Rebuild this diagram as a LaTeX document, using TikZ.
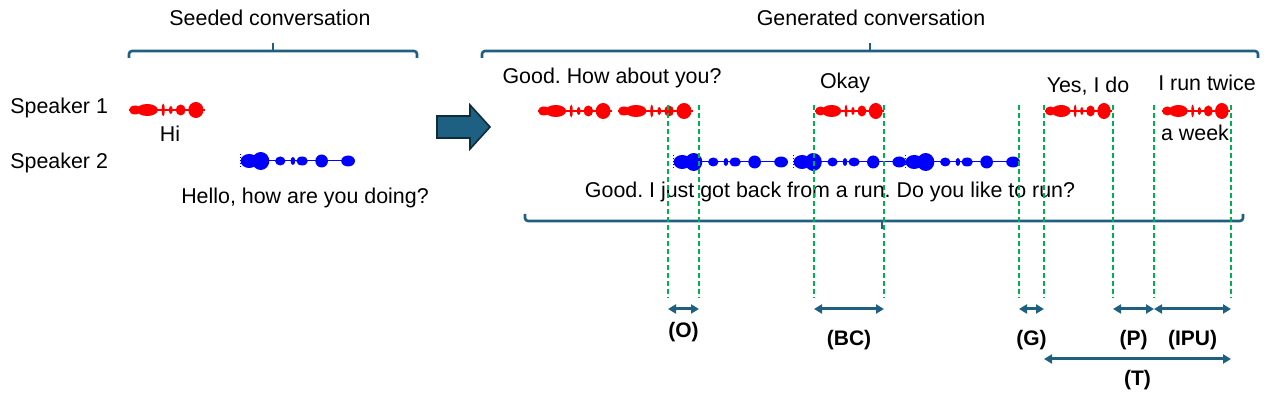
\documentclass[tikz,border=0pt]{standalone}
\usepackage{fontspec}
\setmainfont{Liberation Sans}
\usetikzlibrary{arrows.meta, positioning, calc}
\definecolor{bracketblue}{HTML}{1F5F7F}
\definecolor{arrowfill}{HTML}{1D6082}
\definecolor{arrowline}{HTML}{0E2C3B}
\definecolor{guidegreen}{HTML}{00B050}
\frenchspacing

% one red speech blob, start x / width / y
\newcommand{\redwave}[3]{%
  \begin{scope}[shift={(#1,#3)}, xscale=#2, red]
    \draw[line width=0.7pt] (0,0) -- (1,0);
    \fill (0.08,0) ellipse [x radius=0.08, y radius=4.5];
    \fill (0.24,0) ellipse [x radius=0.14, y radius=6];
    \fill (0.45,0) ellipse [x radius=0.02, y radius=6.5];
    \fill (0.55,0) ellipse [x radius=0.025, y radius=4];
    \fill (0.68,0) ellipse [x radius=0.065, y radius=5.5];
    \fill (0.88,0) ellipse [x radius=0.10, y radius=8];
  \end{scope}}
% one blue speech blob, start x / width / y
\newcommand{\bluewave}[3]{%
  \begin{scope}[shift={(#1,#3)}, xscale=#2, blue]
    \draw[line width=0.5pt] (0,0) -- (1,0);
    \foreach \yy in {-7,-4,...,5} \fill (0,\yy) rectangle ++(0.012,1.5);
    \fill (0.08,0) ellipse [x radius=0.075, y radius=7];
    \fill (0.18,0) ellipse [x radius=0.075, y radius=9];
    \fill (0.35,0) ellipse [x radius=0.045, y radius=4.5];
    \fill (0.46,0) ellipse [x radius=0.02, y radius=4];
    \fill (0.54,0) ellipse [x radius=0.05, y radius=4.5];
    \fill (0.71,0) ellipse [x radius=0.055, y radius=6.5];
    \fill (0.94,0) ellipse [x radius=0.06, y radius=5.5];
  \end{scope}}

\begin{document}
\begin{tikzpicture}[
  x=0.5pt, y=-0.5pt,
  lbl/.style={inner sep=0pt, font=\fontsize{10.7}{12}\selectfont},
  tag/.style={inner sep=0pt, font=\fontsize{10.5}{12}\selectfont\bfseries},
  brace/.style={draw=bracketblue, line width=1.3pt, rounded corners=1.5pt},
  guide/.style={draw=guidegreen, line width=0.6pt, dash pattern=on 2.5pt off 1.5pt},
  dimarr/.style={{Triangle[length=4pt,width=4.5pt]}-{Triangle[length=4pt,width=4.5pt]},
                 draw=bracketblue, line width=1.5pt}
]
\useasboundingbox (0,0) rectangle (1269,399);

% speakers
\node[lbl, anchor=west] (spk1) at (10,108) {Speaker 1};
\node[lbl, anchor=west] (spk2) at (10,163) {Speaker 2};

% seeded part
\draw[brace] (129,58) -- (129,51) -- (417,51) -- (417,58);
\draw[brace] (273,51) -- (273,43);
\node[lbl] (seedlbl) at (270,18) {Seeded conversation};
\redwave{129}{76}{110}
\node[lbl] (hi) at (170,134) {Hi};
\bluewave{240}{115}{161}
\node[lbl] (hello) at (305,198) {Hello, how are you doing?};

% big arrow
\filldraw[fill=arrowfill, draw=arrowline, line width=0.8pt]
  (437,116) -- (470,116) -- (470,105) -- (490,127) -- (470,149) -- (470,138) -- (437,138) -- cycle;

% generated part
\draw[brace] (482,58) -- (482,51) -- (1258,51) -- (1258,58);
\draw[brace] (870,51) -- (870,43);
\node[lbl] (genlbl) at (871,18) {Generated conversation};
\draw[brace] (525,214) -- (525,221) -- (1243,221) -- (1243,214);
\draw[brace] (882,221) -- (882,229);

\redwave{538}{74}{111}
\redwave{618}{75}{111}
\redwave{815}{69}{111}
\redwave{1045}{67}{111}
\redwave{1162}{68}{111}
\bluewave{673}{115}{162}
\bluewave{793}{113}{162}
\bluewave{905}{115}{162}

\node[lbl] (howabout) at (612,78) {Good. How about you?};
\node[lbl] (okay) at (845,83) {Okay};
\node[lbl] (yesido) at (1088,86) {Yes, I do};
\node[lbl] (twice) at (1207,83) {I run twice};
\node[lbl] (week) at (1195,133) {a week};
\node[lbl] (justgot) at (830,192) {Good. I just got back from a run. Do you like to run?};

% time marks
\foreach \nm/\xx in {oS/668, oE/699, bS/814, bE/884, gS/1019, gE/1044, pS/1113, pE/1154, uE/1231}
  {\coordinate (\nm) at (\xx,105);
   \draw[guide] (\nm) -- ++(0,193);}
\coordinate (row1) at (0,309);
\coordinate (row2) at (0,359);

\draw[dimarr] (oS |- row1) -- (oE |- row1) node[tag, midway, below=6pt] {(O)};
\draw[dimarr] (bS |- row1) -- (bE |- row1) node[tag, midway, below=10pt] {(BC)};
\draw[dimarr] (gS |- row1) -- (gE |- row1) node[tag, midway, below=10pt] {(G)};
\draw[dimarr] (pS |- row1) -- (pE |- row1) node[tag, midway, below=10pt] {(P)};
\draw[dimarr] (pE |- row1) -- (uE |- row1) node[tag, midway, below=10pt] {(IPU)};
\draw[dimarr] (gE |- row2) -- (uE |- row2) node[tag, midway, below=5pt] {(T)};
\end{tikzpicture}
\end{document}
